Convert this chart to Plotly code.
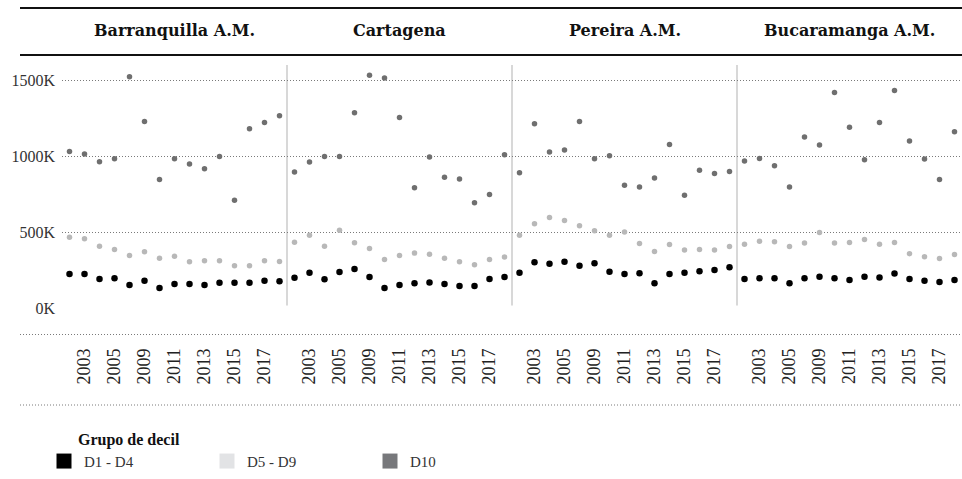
import plotly.graph_objects as go
from plotly.subplots import make_subplots

CITIES = ["Barranquilla A.M.", "Cartagena", "Pereira A.M.", "Bucaramanga A.M."]
YEARS = ["2002", "2003", "2004", "2005", "2008", "2009", "2010", "2011",
         "2012", "2013", "2014", "2015", "2016", "2017", "2018"]
TICK_YEARS = ["2003", "2005", "2009", "2011", "2013", "2015", "2017"]
Y_TICKS = [0, 500, 1000, 1500]
Y_TICK_TEXT = ["0K", "500K", "1000K", "1500K"]
GROUPS = ["D1 - D4", "D5 - D9", "D10"]

# values in thousands
D1_D4 = {
    "Barranquilla A.M.": [224, 224, 191, 197, 151, 180, 132, 158, 158, 151, 167, 167, 167, 180, 176],
    "Cartagena":         [200, 233, 189, 237, 257, 204, 132, 151, 163, 169, 158, 145, 145, 191, 204],
    "Pereira A.M.":      [233, 301, 292, 305, 279, 296, 239, 224, 230, 164, 224, 233, 243, 250, 268],
    "Bucaramanga A.M.":  [191, 197, 197, 164, 197, 206, 197, 184, 206, 202, 228, 191, 180, 171, 184],
}
D5_D9 = {
    "Barranquilla A.M.": [467, 456, 408, 386, 347, 371, 329, 342, 305, 312, 312, 279, 279, 312, 307],
    "Cartagena":         [434, 480, 408, 513, 430, 393, 320, 347, 362, 355, 329, 305, 285, 320, 336],
    "Pereira A.M.":      [480, 555, 597, 577, 542, 509, 480, 502, 426, 373, 419, 382, 386, 382, 406],
    "Bucaramanga A.M.":  [421, 441, 437, 406, 428, 498, 428, 432, 452, 421, 432, 358, 338, 327, 353],
}
D10 = {
    "Barranquilla A.M.": [1033, 1016, 965, 985, 1526, 1230, 847, 985, 950, 919, 1000, 711, 1182, 1224, 1268],
    "Cartagena":         [897, 963, 1000, 1000, 1288, 1535, 1518, 1257, 794, 996, 862, 851, 695, 748, 1011],
    "Pereira A.M.":      [893, 1215, 1029, 1042, 1230, 985, 1005, 809, 799, 858, 1079, 743, 908, 888, 901],
    "Bucaramanga A.M.":  [970, 987, 939, 799, 1128, 1075, 1421, 1193, 978, 1224, 1434, 1101, 983, 847, 1162],
}

SERIES = [(GROUPS[0], D1_D4), (GROUPS[1], D5_D9), (GROUPS[2], D10)]
POINT_COLORS = {"D1 - D4": "#000000", "D5 - D9": "#b8b8b8", "D10": "#6f6f6f"}
POINT_SIZES = {"D1 - D4": 6.5, "D5 - D9": 5.5, "D10": 5.5}
LEGEND_COLORS = {"D1 - D4": "#000000", "D5 - D9": "#e2e3e5", "D10": "#77787b"}

SERIF = "Liberation Serif"
GRID = "#7a7a7a"

fig = make_subplots(rows=1, cols=4, shared_yaxes=True, horizontal_spacing=0)

for ci, city in enumerate(CITIES):
    for name, data in SERIES:
        fig.add_trace(go.Scatter(
            x=YEARS, y=data[city], mode="markers",
            marker=dict(color=POINT_COLORS[name], size=POINT_SIZES[name], line=dict(width=0)),
            showlegend=False, name=name, hoverinfo="x+y",
        ), row=1, col=ci + 1)

# legend entries
for name in GROUPS:
    fig.add_trace(go.Scatter(
        x=[None], y=[None], mode="markers", name=name,
        marker=dict(symbol="square", size=15, color=LEGEND_COLORS[name]),
        showlegend=True,
    ), row=1, col=1)

for ci in range(4):
    fig.update_xaxes(
        type="category", categoryorder="array", categoryarray=YEARS,
        range=[-0.5, len(YEARS) - 0.5],
        tickmode="array", tickvals=TICK_YEARS, ticktext=TICK_YEARS,
        tickangle=-90, ticks="", showgrid=False, zeroline=False, showline=False,
        ticklabelstandoff=36,
        tickfont=dict(family=SERIF, size=18, color="#222"),
        row=1, col=ci + 1,
    )
    fig.update_yaxes(
        range=[0, 1603], tickmode="array", tickvals=Y_TICKS,
        showgrid=True, gridcolor=GRID, griddash="1px,2px", gridwidth=1,
        zeroline=False, showline=False, ticks="",
        row=1, col=ci + 1,
    )
fig.update_yaxes(ticktext=Y_TICK_TEXT, ticklabelstandoff=6,
                 tickfont=dict(family=SERIF, size=16, color="#333"), row=1, col=1)

H = 243.0  # plot height in px
def py(p):
    return (308.0 - p) / H

def px(p):
    return (p - 62.0) / 900.0

shapes = []
# header rules
shapes.append(dict(type="line", xref="paper", yref="paper", x0=px(20), x1=1, y0=py(8), y1=py(8),
                   line=dict(color="#111", width=2.2)))
shapes.append(dict(type="line", xref="paper", yref="paper", x0=px(20), x1=1, y0=py(55), y1=py(55),
                   line=dict(color="#111", width=2.2)))
# axis band rules
for p in (334.5, 405):
    shapes.append(dict(type="line", xref="paper", yref="paper", x0=px(20), x1=1, y0=py(p), y1=py(p),
                       line=dict(color=GRID, width=1, dash="1px,2px")))
# panel dividers
for i in range(1, 4):
    shapes.append(dict(type="line", xref="paper", yref="paper", x0=i / 4, x1=i / 4, y0=0.01, y1=1,
                       line=dict(color="#d8d8d8", width=2), layer="below"))

annotations = []
for ci, city in enumerate(CITIES):
    annotations.append(dict(
        text=city, xref="paper", yref="paper", x=(ci + 0.5) / 4, y=py(30),
        xanchor="center", yanchor="middle", showarrow=False,
        font=dict(family="DejaVu Serif", size=16, color="#111", weight="bold"),
    ))

fig.update_layout(
    width=962, height=479,
    margin=dict(l=62, r=0, t=65, b=171),
    paper_bgcolor="white", plot_bgcolor="white",
    shapes=shapes, annotations=annotations,
    showlegend=True,
    legend=dict(
        orientation="h", x=px(44), y=py(424), xanchor="left", yanchor="top",
        entrywidth=118, entrywidthmode="pixels",
        itemsizing="trace",
        title=dict(text="&nbsp;" * 8 + "<b>Grupo de decil</b>", side="top",
                   font=dict(family=SERIF, size=16, color="#111")),
        font=dict(family=SERIF, size=15, color="#333"),
        bgcolor="rgba(0,0,0,0)",
    ),
)

fig.write_html("out.html", config={"displayModeBar": False},
               post_script="document.body.style.margin='0';document.body.style.overflow='hidden';")
